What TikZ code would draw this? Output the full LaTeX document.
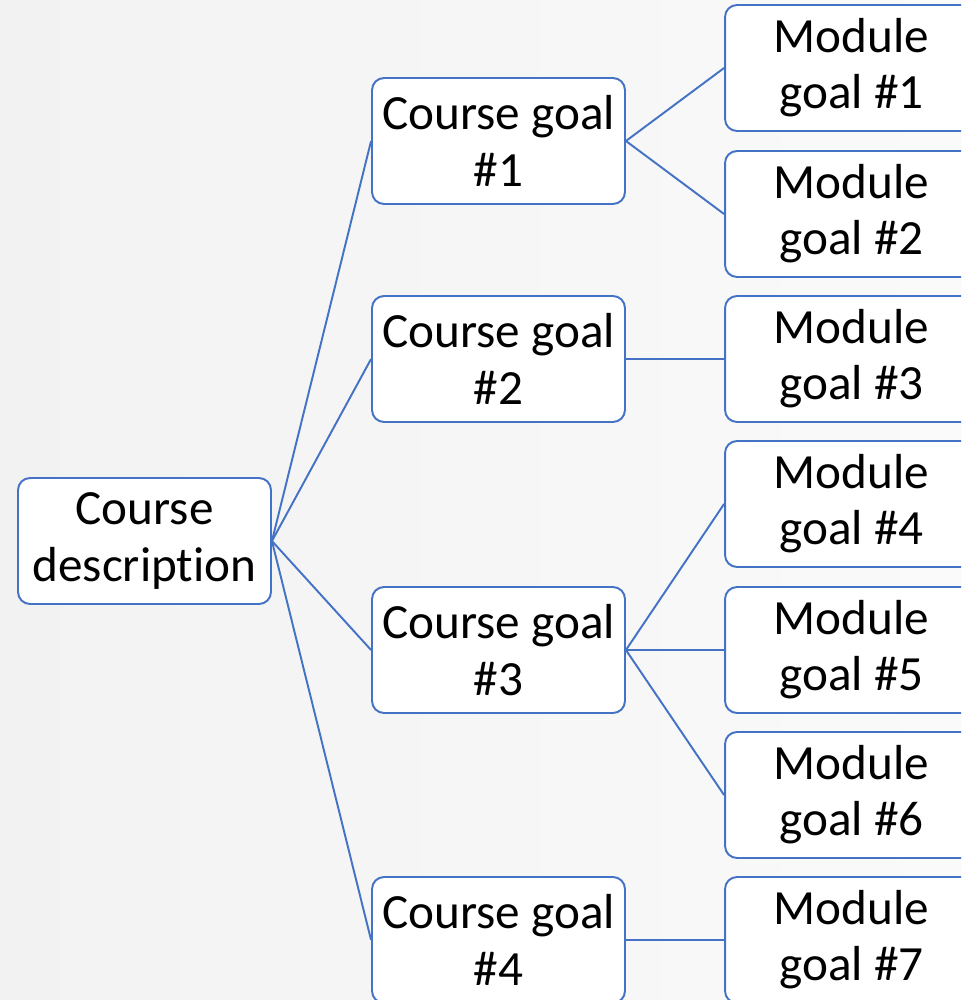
\documentclass[tikz,border=0pt]{standalone}
\usepackage{fontspec}
\setmainfont{Carlito}[Ligatures=NoCommon]
\definecolor{boxblue}{HTML}{4472C4}
\definecolor{fondclair}{HTML}{F2F2F2}
\definecolor{fondblanc}{HTML}{FAFAFA}

\begin{document}
\begin{tikzpicture}[x=0.02cm, y=-0.02cm,
    box/.style={draw=boxblue, line width=1.1pt, fill=white, rounded corners=0.24cm,
        minimum width=5.06cm, minimum height=2.52cm, inner sep=0pt,
        align=center, font=\fontsize{28}{32}\selectfont},
    lien/.style={draw=boxblue, line width=1.1pt}]
    \useasboundingbox (0,0) rectangle (961,1000);
    \shade[left color=fondclair, right color=fondblanc] (0,0) rectangle (961,1000);
    \clip (0,0) rectangle (961,1000);

    \node[box] (desc) at (144.5,541) {Course\\description};

    \node[box] (goal1) at (498.5,141) {Course goal\\\#1};
    \node[box] (goal2) at (498.5,359) {Course goal\\\#2};
    \node[box] (goal3) at (498.5,650) {Course goal\\\#3};
    \node[box] (goal4) at (498.5,940) {Course goal\\\#4};

    \node[box] (mod1) at (851.5,68) {Module\\goal \#1};
    \node[box] (mod2) at (851.5,214) {Module\\goal \#2};
    \node[box] (mod3) at (851.5,359) {Module\\goal \#3};
    \node[box] (mod4) at (851.5,504) {Module\\goal \#4};
    \node[box] (mod5) at (851.5,650) {Module\\goal \#5};
    \node[box] (mod6) at (851.5,795) {Module\\goal \#6};
    \node[box] (mod7) at (851.5,940) {Module\\goal \#7};

    % liens
    \foreach \g in {1,...,4}
        \draw[lien] (desc.east) -- (goal\g.west);
    \foreach \g/\m in {1/1, 1/2, 2/3, 3/4, 3/5, 3/6, 4/7}
        \draw[lien] (goal\g.east) -- (mod\m.west);
\end{tikzpicture}
\end{document}
